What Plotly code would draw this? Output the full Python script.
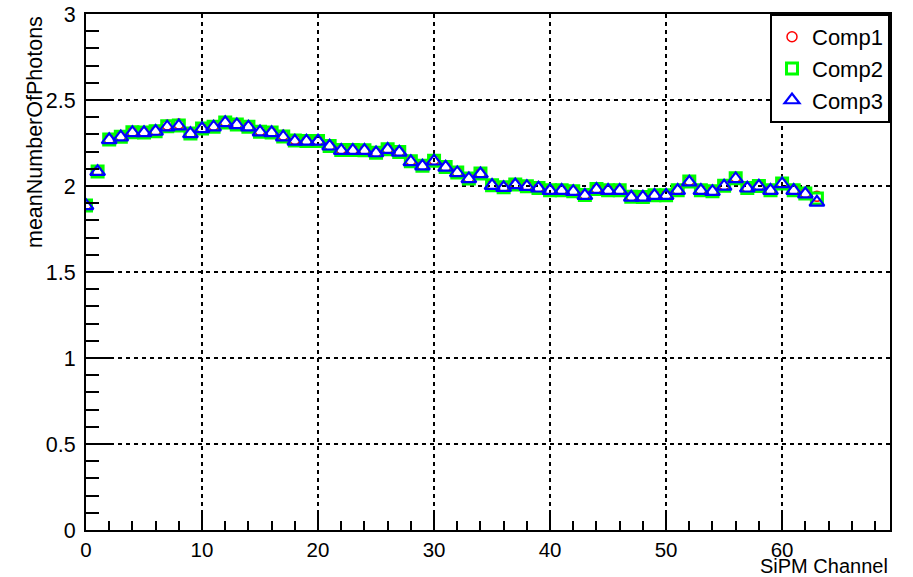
import plotly.graph_objects as go

channels = list(range(64))

comp1 = [1.890, 2.085, 2.272, 2.290, 2.315, 2.312, 2.322, 2.355, 2.360, 2.306, 2.336, 2.352, 2.375, 2.360, 2.346, 2.322, 2.312, 2.295, 2.270, 2.263, 2.263, 2.236, 2.215, 2.212, 2.210, 2.196, 2.216, 2.201, 2.150, 2.121, 2.152, 2.112, 2.081, 2.046, 2.076, 2.006, 1.995, 2.010, 2.001, 1.991, 1.976, 1.977, 1.971, 1.951, 1.985, 1.976, 1.976, 1.940, 1.938, 1.948, 1.948, 1.978, 2.032, 1.978, 1.971, 2.006, 2.051, 1.991, 2.001, 1.976, 2.016, 1.976, 1.960, 1.940]
comp2 = [1.887, 2.084, 2.270, 2.287, 2.312, 2.311, 2.319, 2.347, 2.352, 2.305, 2.334, 2.345, 2.369, 2.357, 2.344, 2.316, 2.311, 2.288, 2.264, 2.262, 2.261, 2.233, 2.210, 2.209, 2.208, 2.194, 2.214, 2.198, 2.144, 2.118, 2.147, 2.110, 2.078, 2.043, 2.073, 2.004, 1.993, 2.008, 1.998, 1.989, 1.975, 1.975, 1.969, 1.947, 1.982, 1.975, 1.975, 1.937, 1.936, 1.946, 1.946, 1.975, 2.026, 1.975, 1.969, 2.001, 2.045, 1.989, 2.000, 1.975, 2.014, 1.975, 1.956, 1.928]
comp3 = [1.885, 2.083, 2.268, 2.284, 2.309, 2.309, 2.317, 2.342, 2.348, 2.303, 2.332, 2.342, 2.367, 2.355, 2.342, 2.313, 2.309, 2.284, 2.260, 2.260, 2.260, 2.231, 2.206, 2.206, 2.206, 2.192, 2.212, 2.196, 2.140, 2.115, 2.144, 2.108, 2.076, 2.041, 2.070, 2.002, 1.990, 2.006, 1.996, 1.987, 1.973, 1.973, 1.967, 1.944, 1.979, 1.973, 1.973, 1.934, 1.934, 1.944, 1.944, 1.973, 2.022, 1.973, 1.967, 1.998, 2.041, 1.987, 1.998, 1.973, 2.012, 1.973, 1.953, 1.905]

names = ["Comp1", "Comp2", "Comp3"]
x_ticks = [0, 10, 20, 30, 40, 50, 60]
y_ticks = [0, 0.5, 1, 1.5, 2, 2.5, 3]
y_tick_text = ["0", "0.5", "1", "1.5", "2", "2.5", "3"]

FONT = "Liberation Sans, Arial, sans-serif"

fig = go.Figure()
fig.add_trace(go.Scatter(x=channels, y=comp1, mode="markers", name=names[0],
                         marker=dict(symbol="circle-open", size=10, color="#ff0000",
                                     line=dict(width=1.5, color="#ff0000"))))
fig.add_trace(go.Scatter(x=channels, y=comp2, mode="markers", name=names[1],
                         marker=dict(symbol="square-open", size=11, color="#00ff00",
                                     line=dict(width=3, color="#00ff00"))))
fig.add_trace(go.Scatter(x=channels, y=comp3, mode="markers", name=names[2],
                         marker=dict(symbol="triangle-up-open", size=13, color="#0000ff",
                                     line=dict(width=2.2, color="#0000ff"))))

fig.update_layout(
    width=913, height=577,
    margin=dict(l=86, r=23, t=14, b=47, autoexpand=False),
    paper_bgcolor="white", plot_bgcolor="white",
    font=dict(family=FONT, size=21, color="black"),
    showlegend=True,
    legend=dict(x=1, xanchor="right", y=1, yanchor="top",
                bgcolor="white", bordercolor="black", borderwidth=2,
                font=dict(family=FONT, size=22, color="black"),
                itemwidth=30, tracegroupgap=0),
)

fig.update_xaxes(
    range=[0, 69.3], tickvals=x_ticks, ticktext=[str(v) for v in x_ticks],
    ticks="inside", ticklen=20, tickwidth=2, tickcolor="black",
    minor=dict(dtick=2, tick0=0, ticks="inside", ticklen=9, tickwidth=2, tickcolor="black", showgrid=False),
    showline=True, linecolor="black", linewidth=2, mirror=True,
    showgrid=True, gridcolor="black", gridwidth=2, griddash="4px,4px",
    zeroline=False, automargin=False, ticklabeloverflow="allow",
    tickfont=dict(family=FONT, size=20.5, color="black"),
)
fig.update_yaxes(
    range=[0, 3], tickvals=y_ticks, ticktext=y_tick_text,
    ticks="inside", ticklen=27, tickwidth=2, tickcolor="black",
    minor=dict(dtick=0.1, tick0=0, ticks="inside", ticklen=13, tickwidth=2, tickcolor="black", showgrid=False),
    showline=True, linecolor="black", linewidth=2, mirror=True,
    showgrid=True, gridcolor="black", gridwidth=2, griddash="4px,4px",
    zeroline=False, automargin=False, ticklabelstandoff=4, ticklabeloverflow="allow",
    tickfont=dict(family=FONT, size=21.5, color="black"),
)

fig.add_annotation(text="meanNumberOfPhotons", textangle=-90, xref="paper", yref="paper",
                   x=0, xshift=-37, xanchor="right", y=1, yanchor="top", showarrow=False,
                   font=dict(family=FONT, size=21.5, color="black"))
fig.add_annotation(text="SiPM Channel", xref="paper", yref="paper",
                   x=1, xanchor="right", y=0, yanchor="top", yshift=-23, showarrow=False,
                   font=dict(family=FONT, size=20, color="black"))

# remove the default 8px page margin so the figure fills the window exactly
fig.write_html("out.html", config={"displayModeBar": False},
               post_script="document.body.style.margin='0';document.body.style.overflow='hidden';")
